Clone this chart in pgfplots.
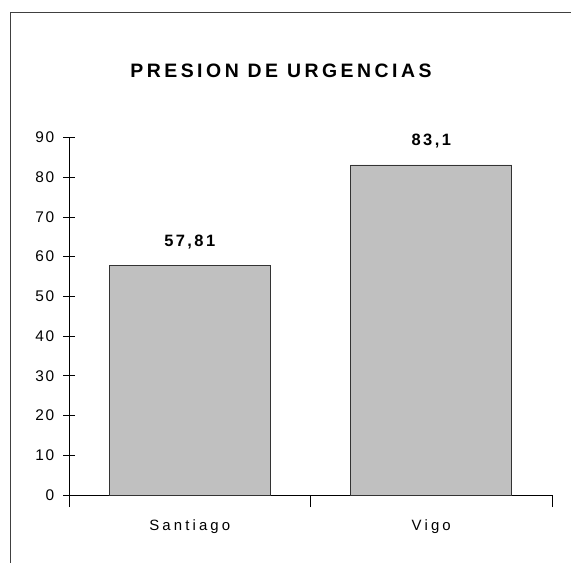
\documentclass[border=0pt]{standalone}
\usepackage{fontspec}
\setmainfont{Liberation Sans}
\newfontfamily\lsptick[LetterSpace=12]{Liberation Sans}
\newfontfamily\lspcat[LetterSpace=21]{Liberation Sans}
\newfontfamily\lspdat[LetterSpace=15]{Liberation Sans}
\newfontfamily\lspt[LetterSpace=18]{Liberation Sans}
\usepackage{pgfplots}
\pgfplotsset{compat=1.18}
\begin{document}
\begin{tikzpicture}
\path[use as bounding box] (0,0) rectangle (571bp,563bp);
\draw[black!75, line width=0.9bp] (10bp,0) -- (10bp,550.7bp) -- (571bp,550.7bp);
\node[anchor=base, inner sep=0pt, font=\lspt\bfseries\fontsize{19.5}{19.5}\selectfont] at (281bp,485.7bp) {PRESION DE URGENCIAS};
\begin{axis}[
  at={(69bp,68bp)}, anchor=south west, scale only axis,
  width=483bp, height=357.5bp,
  xmin=-0.5, xmax=1.5, ymin=0, ymax=90,
  axis x line=bottom, axis y line=left,
  axis line style={-, black, line width=0.8bp},
  xtick={0,1}, xticklabels={Santiago,Vigo},
  major x tick style={draw=none},
  minor xtick={-0.5,0.5,1.5}, minor tick length=12bp,
  ytick={0,10,...,90}, major tick length=11bp, tick align=center,
  tick style={black, line width=0.8bp},
  /pgf/number format/assume math mode=true,
  yticklabel style={font=\lsptick\fontsize{15.5}{15.5}\selectfont, anchor=east, inner sep=0pt, xshift=-9bp},
  xticklabel style={font=\lspcat\fontsize{15}{15}\selectfont, anchor=base, inner sep=0pt, yshift=-24bp},
  ybar, bar width=0.667,
  nodes near coords={\pgfmathprintnumber[use comma, precision=2, assume math mode=true]{\pgfplotspointmeta}},
  every node near coord/.append style={anchor=base, inner sep=0pt, yshift=19bp, font=\lspdat\bfseries\fontsize{16.5}{16.5}\selectfont},
  clip=false,
]
\addplot[fill={rgb,255:red,192;green,192;blue,192}, draw=black!80, line width=0.8bp] coordinates {(0,57.81) (1,83.1)};
\end{axis}
\end{tikzpicture}
\end{document}
